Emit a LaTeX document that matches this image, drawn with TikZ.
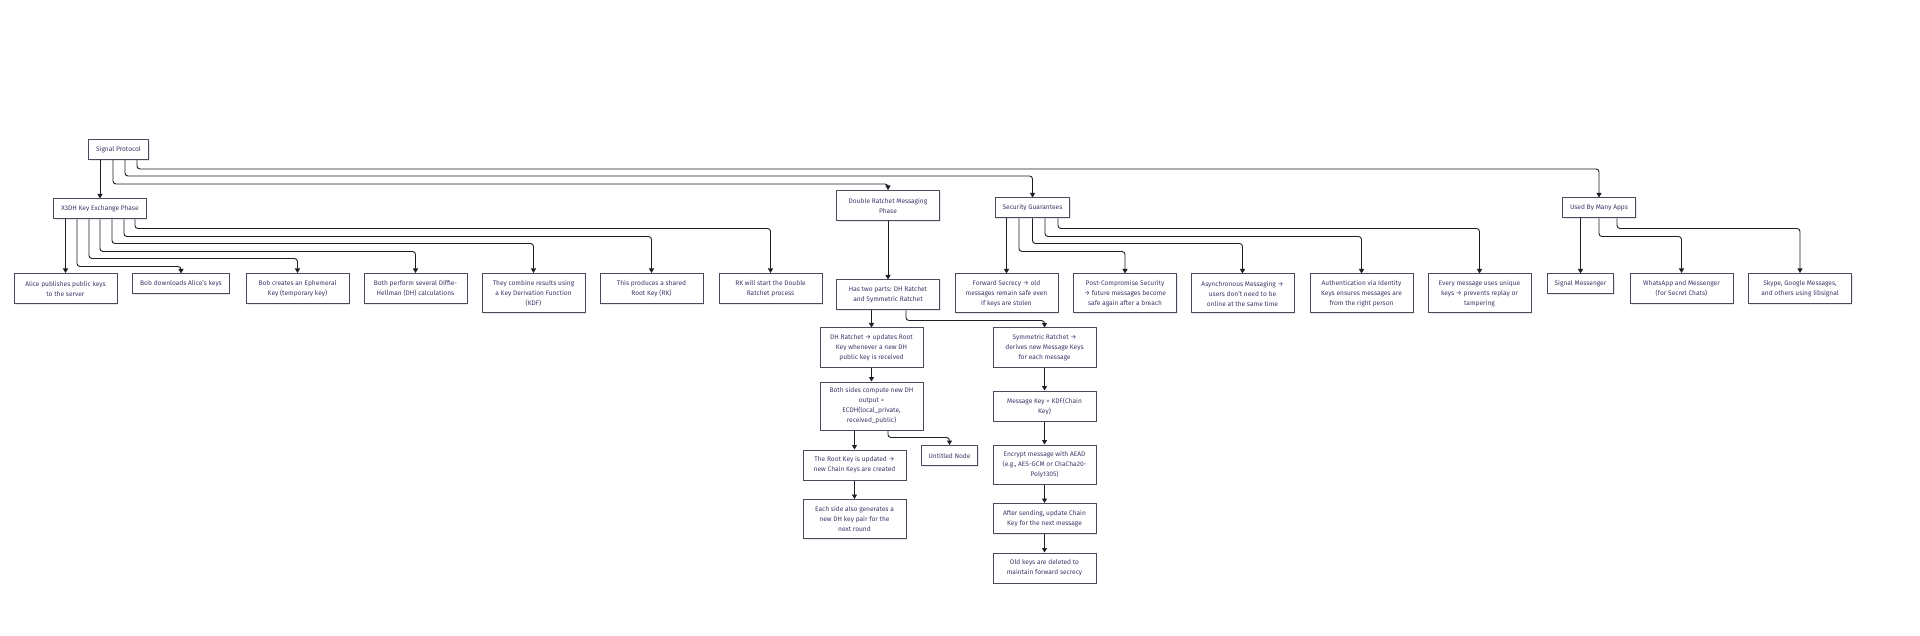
\documentclass[tikz,border=0pt]{standalone}
\usepackage{fontspec}
\setmainfont{Fira Sans}
\usetikzlibrary{arrows.meta,shadows,scopes}
\definecolor{ink}{RGB}{60,56,104}
\definecolor{frame}{RGB}{74,74,90}
\definecolor{wire}{RGB}{30,30,36}

\begin{document}
\begin{tikzpicture}[
    x=1pt,y=-1pt,
    box/.style={rectangle,draw=frame,fill=white,line width=1pt,text=ink,align=center,
        font=\fontsize{6.6}{10}\selectfont,inner xsep=7.5pt,inner ysep=2pt,minimum height=20pt,
        drop shadow={opacity=0.18,shadow xshift=1.2pt,shadow yshift=-1.2pt}},
    wide/.style={box,minimum width=103pt},
    rows2/.style={minimum height=30pt},
    rows3/.style={minimum height=39pt},
    rows4/.style={minimum height=48pt},
    link/.style={-{Triangle[length=4.5pt,width=5pt]},draw=wire,line width=0.9pt,rounded corners=3pt},
]
    \fill[white] (0,0) rectangle (1920,636);
    \useasboundingbox (0,0) rectangle (1920,636);

    % top levels
    \node[box] (sp) at (118.5,149.5) {Signal Protocol};
    \node[box] (x3dh) at (100,209) {X3DH Key Exchange Phase};
    \node[wide,rows2] (dr) at (888,205.5) {Double Ratchet Messaging\\Phase};
    \node[box] (sg) at (1032.5,208) {Security Guarantees};
    \node[box] (apps) at (1599,208) {Used By Many Apps};

    % x3dh steps
    \node[wide,rows2] (alice) at (65.5,288.5) {Alice publishes public keys\\to the server};
    \node[box] (bobdl) at (181,284) {Bob downloads Alice’s keys};
    \node[wide,rows2] (bobeph) at (297.5,288.5) {Bob creates an Ephemeral\\Key (temporary key)};
    \node[wide,rows2] (dhcalc) at (415.5,288.5) {Both perform several Diffie-\\Hellman (DH) calculations};
    \node[wide,rows3] (kdf) at (533.5,293) {They combine results using\\a Key Derivation Function\\(KDF)};
    \node[wide,rows2] (rk) at (651.5,288.5) {This produces a shared\\Root Key (RK)};
    \node[wide,rows2] (rkstart) at (770.5,288.5) {RK will start the Double\\Ratchet process};

    % double ratchet
    \node[wide,rows2] (parts) at (888,295) {Has two parts: DH Ratchet\\and Symmetric Ratchet};
    \node[wide,rows3] (dhr) at (871.5,347.5) {DH Ratchet → updates Root\\Key whenever a new DH\\public key is received};
    \node[wide,rows4] (both) at (871.5,406) {Both sides compute new DH\\output =\\ECDH(local\_private,\\received\_public)};
    \node[wide,rows2] (rootup) at (854.5,465) {The Root Key is updated →\\new Chain Keys are created};
    \node[wide,rows3] (each) at (854.5,519) {Each side also generates a\\new DH key pair for the\\next round};
    \node[box] (untitled) at (949.5,455.5) {Untitled Node};
    \node[wide,rows3] (symr) at (1044.5,347.5) {Symmetric Ratchet →\\derives new Message Keys\\for each message};
    \node[wide,rows2] (mk) at (1044.5,406) {Message Key = KDF(Chain\\Key)};
    \node[wide,rows3] (enc) at (1044.5,464.5) {Encrypt message with AEAD\\(e.g., AES-GCM or ChaCha20-\\Poly1305)};
    \node[wide,rows2] (after) at (1044.5,518.5) {After sending, update Chain\\Key for the next message};
    \node[wide,rows2] (old) at (1044.5,568) {Old keys are deleted to\\maintain forward secrecy};

    % guarantees
    \node[wide,rows3] (fs) at (1006.5,293.5) {Forward Secrecy → old\\messages remain safe even\\if keys are stolen};
    \node[wide,rows3] (pcs) at (1125,293.5) {Post-Compromise Security\\→ future messages become\\safe again after a breach};
    \node[wide,rows3] (async) at (1242.5,293.5) {Asynchronous Messaging →\\users don’t need to be\\online at the same time};
    \node[wide,rows3] (auth) at (1361.5,293.5) {Authentication via Identity\\Keys ensures messages are\\from the right person};
    \node[wide,rows3] (uniq) at (1479.5,293.5) {Every message uses unique\\keys → prevents replay or\\tampering};

    % apps
    \node[box] (sigm) at (1580.5,284) {Signal Messenger};
    \node[wide,rows2] (wa) at (1681.5,288.5) {WhatsApp and Messenger\\(for Secret Chats)};
    \node[wide,rows2] (skype) at (1800,288.5) {Skype, Google Messages,\\and others using libsignal};

    {[link]
        \draw (sp.south -| x3dh.north) -- (x3dh.north);
        \draw ([xshift=-5.5pt]sp.south) -- ++(0,24) -| (dr.north);
        \draw ([xshift=6.5pt]sp.south) -- ++(0,16) -| (sg.north);
        \draw ([xshift=18.5pt]sp.south) -- ++(0,9) -| (apps.north);

        \draw (x3dh.south -| alice.north) -- (alice.north);
        \draw ([xshift=-23pt]x3dh.south) -- ++(0,47) -| (bobdl.north);
        \draw ([xshift=-11pt]x3dh.south) -- ++(0,39) -| (bobeph.north);
        \draw (x3dh.south) -- ++(0,32) -| (dhcalc.north);
        \draw ([xshift=12pt]x3dh.south) -- ++(0,24) -| (kdf.north);
        \draw ([xshift=24pt]x3dh.south) -- ++(0,17) -| (rk.north);
        \draw ([xshift=35pt]x3dh.south) -- ++(0,9) -| (rkstart.north);

        \draw (dr.south) -- (parts.north);
        \draw (parts.south -| dhr.north) -- (dhr.north);
        \draw ([xshift=18pt]parts.south) -- ++(0,10) -| (symr.north);
        \draw (dhr.south) -- (both.north);
        \draw (both.south -| rootup.north) -- (rootup.north);
        \draw ([xshift=16.5pt]both.south) -- ++(0,7) -| (untitled.north);
        \draw (rootup.south) -- (each.north);
        \draw (symr.south) -- (mk.north);
        \draw (mk.south) -- (enc.north);
        \draw (enc.south) -- (after.north);
        \draw (after.south) -- (old.north);

        \draw (sg.south -| fs.north) -- (fs.north);
        \draw ([xshift=-13.5pt]sg.south) -- ++(0,33) -| (pcs.north);
        \draw (sg.south) -- ++(0,25) -| (async.north);
        \draw ([xshift=12.5pt]sg.south) -- ++(0,18) -| (auth.north);
        \draw ([xshift=25.5pt]sg.south) -- ++(0,10) -| (uniq.north);

        \draw (apps.south -| sigm.north) -- (sigm.north);
        \draw (apps.south) -- ++(0,18) -| (wa.north);
        \draw ([xshift=18pt]apps.south) -- ++(0,10) -| (skype.north);
    }
\end{tikzpicture}
\end{document}
